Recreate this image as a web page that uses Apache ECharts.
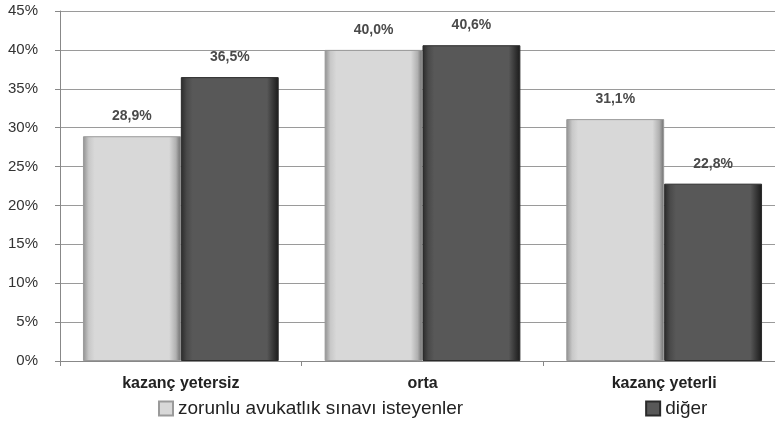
<!DOCTYPE html>
<html><head><meta charset="utf-8">
<script src="https://cdn.jsdelivr.net/npm/echarts@6/dist/echarts.min.js"></script>
<style>html,body{margin:0;padding:0;background:#fff}#c{width:775px;height:444px}</style>
</head><body><div id="c"></div>
<script>
const categories = ['kazanç yetersiz', 'orta', 'kazanç yeterli'];
const seriesNames = ['zorunlu avukatlık sınavı isteyenler', 'diğer'];
const valuesA = [28.9, 40.0, 31.1];
const valuesB = [36.5, 40.6, 22.8];

const chart = echarts.init(document.getElementById('c'), null, {renderer: 'canvas'});
function grad(stops) {
  return new echarts.graphic.LinearGradient(0, 0, 1, 0, stops.map(s => ({offset: s[0], color: s[1]})));
}
const lightFill = grad([[0, '#8f8f8f'], [0.06, '#c8c8c8'], [0.12, '#d8d8d8'], [0.88, '#d8d8d8'], [0.95, '#b0b0b0'], [1, '#6a6a6a']]);
const darkFill = grad([[0, '#2a2a2a'], [0.06, '#4a4a4a'], [0.12, '#585858'], [0.88, '#585858'], [0.95, '#333'], [1, '#1a1a1a']]);
const labelStyle = {
  show: true, position: 'top', distance: 13,
  formatter: p => p.value.toFixed(1).replace('.', ',') + '%',
  fontFamily: 'Liberation Sans', fontSize: 14, fontWeight: 'bold', color: '#4a4a4a'
};
chart.setOption({
  animation: false,
  backgroundColor: '#fff',
  textStyle: {fontFamily: 'Liberation Sans'},
  grid: {left: 60, width: 725, top: 11, bottom: 83, containLabel: false, outerBoundsMode: 'none'},
  legend: {
    bottom: 21, left: 153, itemGap: 182, itemWidth: 14, itemHeight: 14,
    icon: 'rect',
    textStyle: {fontFamily: 'Liberation Sans', fontSize: 19, color: '#222'},
    data: seriesNames
  },
  xAxis: {
    type: 'category', data: categories,
    axisLine: {lineStyle: {color: '#888', width: 1}},
    axisTick: {show: true, length: 5, lineStyle: {color: '#888'}},
    axisLabel: {margin: 15, fontFamily: 'Liberation Sans', fontSize: 16, fontWeight: 'bold', color: '#222'}
  },
  yAxis: {
    type: 'value', min: 0, max: 45, interval: 5,
    axisLine: {show: true, lineStyle: {color: '#888'}},
    axisTick: {show: true, length: 5, lineStyle: {color: '#888'}},
    splitLine: {lineStyle: {color: '#9a9a9a', width: 1}},
    axisLabel: {formatter: '{value}%', margin: 22, fontFamily: 'Liberation Sans', fontSize: 15, color: '#333'}
  },
  series: [
    {name: seriesNames[0], type: 'bar', data: valuesA, barGap: '0%', barCategoryGap: '19%',
     itemStyle: {color: lightFill, borderColor: '#9a9a9a', borderWidth: 1}, label: labelStyle},
    {name: seriesNames[1], type: 'bar', data: valuesB,
     itemStyle: {color: darkFill, borderColor: '#2a2a2a', borderWidth: 1}, label: labelStyle}
  ]
});
</script></body></html>
